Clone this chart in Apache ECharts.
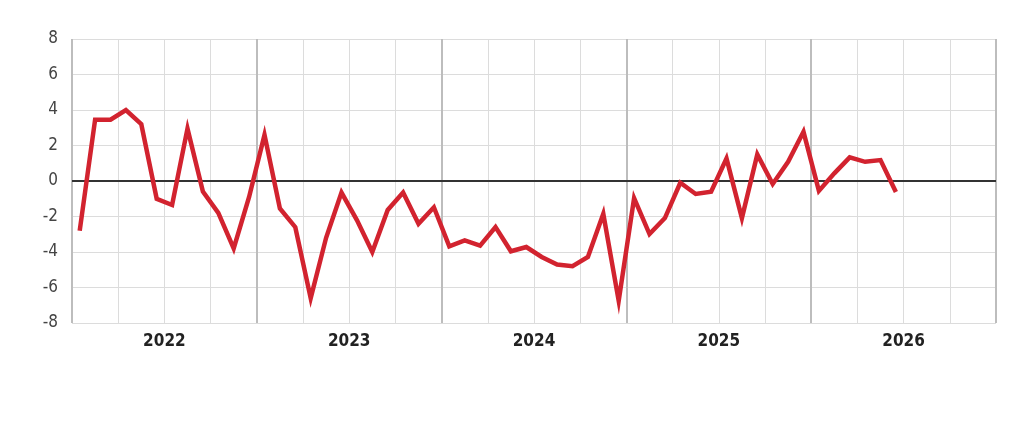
<!DOCTYPE html>
<html>
<head>
<meta charset="utf-8">
<script src="https://cdn.jsdelivr.net/npm/echarts@6/dist/echarts.min.js"></script>
<style>
html,body{margin:0;padding:0;background:#fff;}
#chart{width:1024px;height:445px;}
</style>
</head>
<body>
<div id="chart"></div>
<script>
// Year labels (each year = 12 months on the x axis)
var years = ['2022', '2023', '2024', '2025', '2026'];
// Monthly values starting January 2022
var values = [
  -2.8, 3.45, 3.45, 4.0, 3.2, -1.0, -1.35, 2.95, -0.6, -1.8, -3.8, -0.9,
  2.6, -1.55, -2.6, -6.6, -3.2, -0.65, -2.2, -4.0, -1.63, -0.65, -2.41, -1.48,
  -3.68, -3.35, -3.64, -2.6, -3.96, -3.72, -4.28, -4.71, -4.8, -4.28, -1.85, -6.75,
  -0.97, -2.99, -2.09, -0.1, -0.73, -0.6, 1.27, -2.09, 1.5, -0.17, 1.08, 2.77,
  -0.56, 0.43, 1.33, 1.08, 1.18, -0.62
];
var yTicks = [-8, -6, -4, -2, 0, 2, 4, 6, 8];

var monthsTotal = years.length * 12;
var seriesData = values.map(function (v, i) { return [i + 0.5, v]; });

var font = "'DejaVu Sans Condensed', 'Liberation Sans Narrow', sans-serif";

var chart = echarts.init(document.getElementById('chart'));
chart.setOption({
  animation: false,
  backgroundColor: '#ffffff',
  grid: { left: 72, right: 28, top: 39, bottom: 122, containLabel: false },
  xAxis: [
    {
      type: 'value',
      min: 0,
      max: monthsTotal,
      interval: 3,
      axisLine: { show: false },
      axisTick: { show: false },
      splitLine: { show: true, lineStyle: { color: '#dcdcdc', width: 1 } },
      axisLabel: {
        show: true,
        margin: 10,
        fontFamily: font,
        fontWeight: 'bold',
        fontSize: 17,
        color: '#222',
        formatter: function (v) {
          if (v % 12 === 6) { return years[(v - 6) / 12]; }
          return '';
        }
      }
    },
    {
      type: 'value',
      position: 'top',
      min: 0,
      max: monthsTotal,
      interval: 12,
      axisLine: { show: false },
      axisTick: { show: false },
      axisLabel: { show: false },
      splitLine: { show: true, lineStyle: { color: '#bdbdbd', width: 2 } }
    }
  ],
  yAxis: {
    type: 'value',
    min: yTicks[0],
    max: yTicks[yTicks.length - 1],
    interval: 2,
    axisLine: { show: false },
    axisTick: { show: false },
    splitLine: { show: true, lineStyle: { color: '#dcdcdc', width: 1 } },
    axisLabel: {
      margin: 14,
      fontFamily: font,
      fontSize: 17,
      color: '#444'
    }
  },
  series: [
    {
      type: 'line',
      xAxisIndex: 0,
      data: seriesData,
      showSymbol: false,
      symbol: 'none',
      z: 10,
      lineStyle: { color: '#d2232f', width: 4.5, join: 'miter' },
      markLine: {
        silent: true,
        symbol: ['none', 'none'],
        label: { show: false },
        lineStyle: { color: '#333333', width: 2, type: 'solid' },
        data: [{ yAxis: 0 }]
      }
    }
  ]
});
</script>
</body>
</html>
